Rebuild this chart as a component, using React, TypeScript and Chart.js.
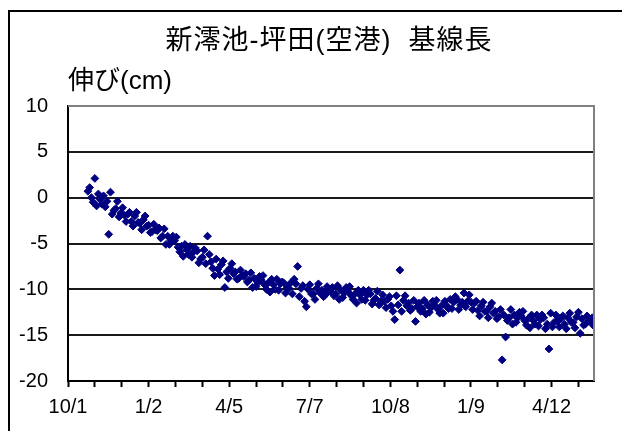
import React, { useEffect, useRef } from 'react';
import { Chart, registerables } from 'chart.js';

Chart.register(...registerables);

const titleText = '新澪池-坪田(空港)  基線長';
const yAxisLabel = '伸び(cm)';
const xTickLabels = ['10/1', '1/2', '4/5', '7/7', '10/8', '1/9', '4/12'];
const xLabelStepDays = 93;
const xMinorStepDays = 31;
const xMinDay = 0;
const xMaxDay = 607;
const yMin = -20;
const yMax = 10;
const yStep = 5;

// observations: one value every `dayStep` days, starting `firstDay` days after 10/1
const firstDay = 23;
const dayStep = 2;
const elongation = [
  0.7, 1.1, 0.0, -0.5, 2.1, -0.9, 0.4, -0.2, -0.7, 0.2,
  -1.0, -0.4, -4.0, 0.6, -1.8, -1.4, -1.2, -0.4, -2.1, -1.7,
  -1.1, -1.9, -2.6, -1.8, -1.6, -2.6, -3.1, -2.0, -1.6, -2.7,
  -2.8, -3.5, -2.4, -2.0, -3.1, -3.0, -3.8, -3.7, -2.9, -3.5,
  -3.6, -3.3, -4.4, -4.2, -3.4, -5.1, -4.2, -5.1, -4.7, -4.2,
  -4.7, -4.3, -5.4, -5.9, -5.3, -6.4, -5.1, -5.7, -6.2, -5.3,
  -6.5, -5.9, -5.5, -5.8, -7.1, -6.7, -6.5, -5.7, -7.2, -4.2,
  -6.2, -7.0, -7.7, -8.5, -6.7, -7.8, -8.4, -7.3, -6.9, -9.8,
  -8.1, -8.8, -7.7, -7.2, -8.3, -8.1, -8.9, -8.8, -7.9, -8.5,
  -8.6, -8.3, -9.2, -9.0, -8.2, -9.8, -8.8, -9.7, -9.3, -8.6,
  -9.0, -8.5, -9.5, -10.0, -9.3, -10.3, -8.9, -9.5, -10.0, -8.9,
  -10.1, -9.4, -9.2, -9.3, -10.4, -9.8, -9.9, -9.3, -10.5, -8.9,
  -9.4, -7.5, -10.8, -9.9, -9.6, -11.3, -11.9, -10.0, -9.5, -10.5,
  -10.5, -11.1, -9.9, -9.4, -10.4, -10.1, -10.8, -10.6, -9.7, -10.2,
  -10.2, -9.8, -10.7, -10.5, -9.6, -11.1, -10.1, -10.9, -10.4, -9.8,
  -10.2, -9.7, -10.7, -11.1, -10.5, -11.5, -10.1, -10.6, -11.1, -10.1,
  -11.2, -10.6, -10.1, -10.5, -11.6, -11.2, -11.0, -10.2, -11.7, -11.3,
  -10.6, -11.3, -12.0, -11.1, -10.8, -11.8, -12.4, -13.3, -10.7, -11.7,
  -7.9, -12.4, -11.2, -10.7, -11.8, -11.5, -12.3, -12.1, -11.2, -13.5,
  -11.9, -11.5, -12.4, -12.1, -11.2, -12.7, -11.7, -12.5, -12.0, -11.3,
  -11.7, -11.2, -12.2, -12.6, -11.8, -12.6, -11.3, -11.8, -12.1, -11.1,
  -12.1, -11.4, -10.8, -11.1, -12.2, -11.7, -11.4, -10.4, -11.9, -11.3,
  -10.6, -11.4, -12.2, -11.5, -11.3, -12.3, -12.9, -11.8, -11.4, -12.4,
  -12.4, -13.1, -11.9, -11.5, -12.6, -12.4, -13.2, -13.0, -12.2, -17.7,
  -12.8, -15.2, -13.4, -13.1, -12.2, -13.8, -12.8, -13.6, -13.1, -12.5,
  -12.9, -12.4, -13.4, -13.9, -13.2, -14.2, -12.8, -13.4, -13.8, -12.8,
  -14.0, -13.3, -12.8, -13.1, -14.3, -13.8, -16.5, -12.6, -14.1, -13.6,
  -12.8, -13.5, -14.1, -13.2, -12.9, -13.8, -14.3, -13.1, -12.6, -13.6,
  -13.6, -14.2, -13.0, -12.5, -14.8, -13.2, -13.9, -13.8, -12.9, -13.4,
  -13.6, -13.1, -14.0,
];

const FONT_FAMILY = '"Liberation Sans", Arial, "Noto Sans CJK JP", sans-serif';

const decorPlugin = {
  id: 'decor',
  beforeDraw(chart: any) {
    const ctx = chart.ctx;
    ctx.save();
    ctx.fillStyle = '#ffffff';
    ctx.fillRect(0, 0, chart.width, chart.height);
    ctx.strokeStyle = '#000000';
    ctx.lineWidth = 2;
    ctx.strokeRect(9, 11, chart.width + 20, chart.height + 20);
    ctx.restore();
  },
  afterDatasetsDraw(chart: any) {
    const { ctx, chartArea } = chart;
    ctx.save();
    ctx.strokeStyle = '#808080';
    ctx.lineWidth = 2;
    ctx.beginPath();
    ctx.moveTo(chartArea.left, chartArea.top);
    ctx.lineTo(chartArea.right, chartArea.top);
    ctx.lineTo(chartArea.right, chartArea.bottom);
    ctx.stroke();
    ctx.restore();
  },
  afterDraw(chart: any) {
    const { ctx, chartArea } = chart;
    ctx.save();
    ctx.fillStyle = '#000000';
    ctx.textBaseline = 'middle';
    ctx.font = `27px ${FONT_FAMILY}`;
    (ctx as any).letterSpacing = '1px';
    ctx.textAlign = 'center';
    ctx.fillText(titleText, 329, 42);
    (ctx as any).letterSpacing = '0px';
    ctx.font = `26px ${FONT_FAMILY}`;
    ctx.textAlign = 'left';
    ctx.fillText(yAxisLabel, chartArea.left, 82);
    ctx.restore();
  },
};

export default function App() {
  const canvasRef = useRef<HTMLCanvasElement | null>(null);

  useEffect(() => {
    if (!canvasRef.current) return;
    const points = elongation.map((v, i) => ({ x: firstDay + i * dayStep, y: v }));
    const minorTicks: number[] = [];
    for (let d = xMinDay; d <= xMaxDay; d += xMinorStepDays) minorTicks.push(d);

    const chart = new Chart(canvasRef.current, {
      type: 'scatter',
      data: {
        datasets: [
          {
            data: points,
            pointStyle: 'rectRot',
            pointRadius: 3.9,
            pointBorderWidth: 1,
            backgroundColor: '#000080',
            borderColor: '#000080',
          },
        ],
      },
      options: {
        responsive: false,
        animation: false,
        events: [],
        layout: { padding: { left: 8, right: 28, top: 106, bottom: 0 } },
        plugins: {
          legend: { display: false },
          tooltip: { enabled: false },
          title: { display: false },
        },
        scales: {
          x: {
            type: 'linear',
            min: xMinDay,
            max: xMaxDay,
            afterFit: (s: any) => {
              s.height = 50;
            },
            afterBuildTicks: (s: any) => {
              s.ticks = minorTicks.map((v) => ({ value: v }));
            },
            ticks: {
              autoSkip: false,
              maxRotation: 0,
              padding: 8,
              color: '#000000',
              font: { family: FONT_FAMILY, size: 20 },
              callback: (value: any) => {
                const v = Number(value);
                return v % xLabelStepDays === 0 ? xTickLabels[v / xLabelStepDays] ?? '' : '';
              },
            },
            grid: {
              drawOnChartArea: false,
              drawTicks: true,
              tickLength: 6,
              tickWidth: 2,
              tickColor: '#000000',
            },
            border: { color: '#000000', width: 2 },
          },
          y: {
            min: yMin,
            max: yMax,
            afterFit: (s: any) => {
              s.width = 60;
            },
            ticks: {
              stepSize: yStep,
              padding: 20,
              color: '#000000',
              font: { family: FONT_FAMILY, size: 20 },
            },
            grid: {
              drawTicks: false,
              lineWidth: 2,
              color: (c: any) => (c.tick && c.tick.value === yMax ? '#808080' : '#1a1a1a'),
            },
            border: { color: '#000000', width: 2 },
          },
        },
      },
      plugins: [decorPlugin],
    });
    return () => chart.destroy();
  }, []);

  return (
    <div style={{ position: 'absolute', left: 0, top: 0, width: 622, height: 431 }}>
      <canvas ref={canvasRef} width={622} height={431} style={{ display: 'block' }} />
    </div>
  );
}
